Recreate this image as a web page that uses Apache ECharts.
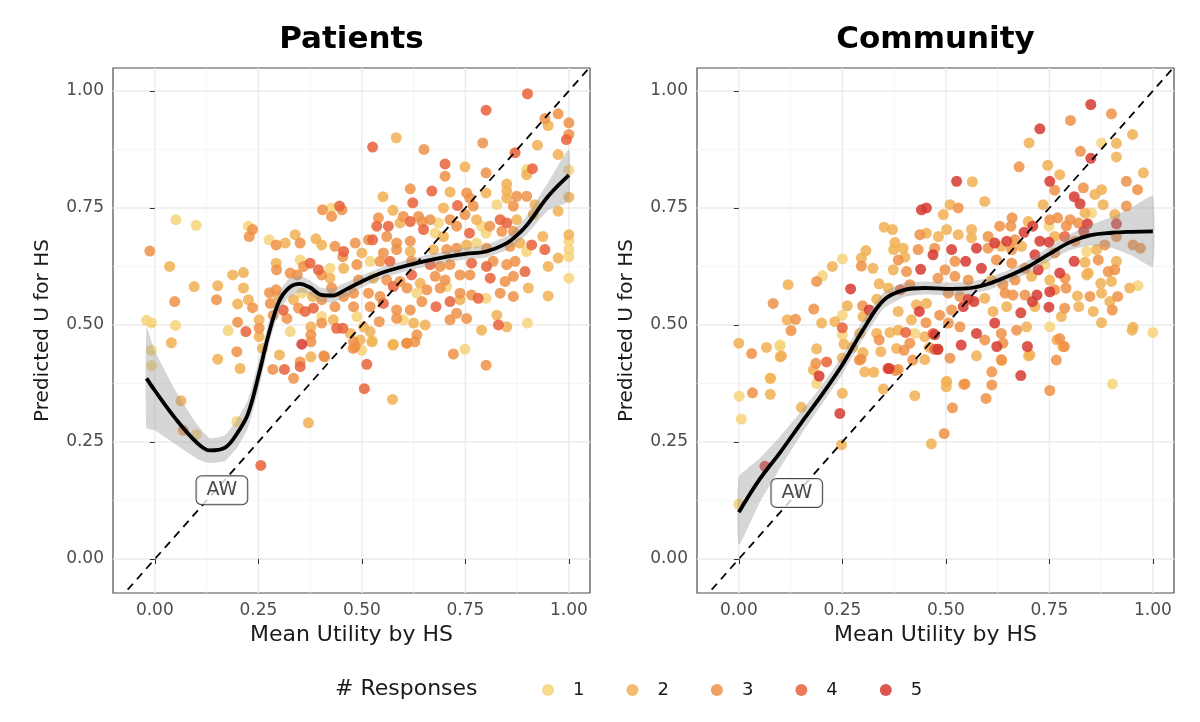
<!DOCTYPE html>
<html>
<head>
<meta charset="utf-8">
<script src="https://cdn.jsdelivr.net/npm/echarts@6/dist/echarts.min.js"></script>
<style>html,body{margin:0;padding:0;background:#fff}#chart{width:1200px;height:722px}</style>
</head>
<body>
<div id="chart"></div>
<script>
// ---------- DATA ----------
const responseLevels = ['1', '2', '3', '4', '5'];
const responseColors = ['#F6D47A', '#F1B052', '#EE9045', '#E7623A', '#D63A30'];

const patientsR1 = [[0.051,0.725],[0.10,0.713],[-0.02,0.51],[-0.008,0.504],[0.05,0.499],[-0.008,0.446],[-0.008,0.413],[0.10,0.266],[0.226,0.711],[0.276,0.682],[0.427,0.75],[0.351,0.639],[0.423,0.621],[0.177,0.488],[0.327,0.486],[0.355,0.568],[0.403,0.518],[0.898,0.832],[1.0,0.831],[0.826,0.757],[0.685,0.718],[0.789,0.711],[0.8,0.696],[0.677,0.696],[0.777,0.675],[1.0,0.679],[1.0,0.661],[1.0,0.646],[0.898,0.657],[0.52,0.636],[1.0,0.6],[0.633,0.568],[0.705,0.582],[0.8,0.557],[0.488,0.518],[0.6,0.511],[0.9,0.504],[0.5,0.446],[0.749,0.448],[0.526,0.466],[0.198,0.294]];
const patientsR2 = [[0.036,0.625],[0.095,0.582],[0.04,0.462],[0.063,0.338],[0.152,0.584],[0.188,0.607],[0.214,0.612],[0.214,0.579],[0.315,0.675],[0.339,0.693],[0.389,0.684],[0.403,0.671],[0.293,0.632],[0.456,0.621],[0.423,0.6],[0.2,0.545],[0.226,0.554],[0.298,0.561],[0.335,0.554],[0.381,0.561],[0.431,0.511],[0.472,0.482],[0.252,0.511],[0.252,0.475],[0.377,0.496],[0.26,0.45],[0.152,0.427],[0.206,0.407],[0.301,0.436],[0.377,0.432],[0.371,0.291],[0.576,0.459],[0.574,0.341],[0.583,0.9],[0.95,0.926],[0.924,0.884],[0.974,0.864],[0.898,0.821],[0.749,0.838],[0.85,0.801],[0.713,0.784],[0.551,0.774],[0.8,0.782],[0.85,0.786],[0.85,0.771],[1.0,0.773],[0.575,0.745],[0.697,0.75],[0.918,0.757],[0.974,0.743],[0.592,0.718],[0.777,0.725],[0.874,0.725],[0.914,0.736],[0.697,0.689],[0.5,0.654],[0.617,0.657],[0.673,0.661],[0.753,0.671],[0.882,0.675],[0.937,0.689],[1.0,0.693],[0.974,0.643],[0.95,0.625],[0.528,0.6],[0.641,0.589],[0.902,0.579],[0.95,0.562],[0.737,0.554],[0.625,0.504],[0.653,0.5],[0.826,0.521],[0.85,0.496],[0.504,0.496],[0.52,0.486],[0.496,0.468],[0.524,0.464],[0.575,0.457],[0.789,0.489]];
const patientsR3 = [[-0.012,0.658],[0.048,0.55],[0.069,0.275],[0.149,0.554],[0.236,0.704],[0.228,0.689],[0.293,0.671],[0.351,0.675],[0.405,0.746],[0.452,0.746],[0.427,0.732],[0.435,0.668],[0.454,0.646],[0.359,0.625],[0.294,0.618],[0.327,0.611],[0.344,0.607],[0.403,0.607],[0.236,0.537],[0.277,0.569],[0.293,0.575],[0.279,0.546],[0.286,0.521],[0.319,0.514],[0.347,0.536],[0.403,0.554],[0.427,0.579],[0.435,0.539],[0.456,0.561],[0.403,0.504],[0.2,0.506],[0.252,0.493],[0.377,0.479],[0.377,0.464],[0.198,0.443],[0.351,0.421],[0.41,0.432],[0.285,0.405],[0.335,0.386],[0.48,0.464],[0.408,0.434],[0.479,0.45],[0.608,0.461],[0.628,0.464],[0.974,0.951],[0.942,0.941],[1.0,0.932],[1.0,0.907],[0.65,0.875],[0.792,0.889],[0.701,0.818],[0.8,0.825],[0.617,0.791],[0.753,0.782],[0.761,0.771],[0.874,0.775],[0.898,0.775],[0.769,0.754],[0.866,0.754],[0.54,0.729],[0.6,0.732],[0.637,0.732],[0.665,0.725],[0.645,0.721],[0.713,0.725],[0.729,0.711],[0.749,0.736],[0.809,0.711],[0.838,0.7],[0.866,0.7],[0.484,0.675],[0.516,0.682],[0.56,0.689],[0.584,0.675],[0.617,0.679],[0.552,0.654],[0.584,0.661],[0.705,0.661],[0.729,0.664],[0.801,0.664],[0.858,0.668],[0.488,0.629],[0.544,0.636],[0.62,0.636],[0.689,0.625],[0.713,0.629],[0.817,0.636],[0.85,0.629],[0.87,0.636],[0.492,0.596],[0.56,0.596],[0.592,0.593],[0.677,0.604],[0.701,0.596],[0.737,0.607],[0.761,0.607],[0.846,0.593],[0.866,0.604],[0.48,0.568],[0.516,0.568],[0.544,0.561],[0.609,0.579],[0.657,0.575],[0.689,0.579],[0.737,0.568],[0.765,0.564],[0.834,0.568],[0.866,0.561],[0.48,0.539],[0.52,0.539],[0.584,0.532],[0.617,0.532],[0.645,0.55],[0.542,0.507],[0.584,0.514],[0.713,0.511],[0.729,0.525],[0.753,0.514],[0.484,0.454],[0.609,0.461],[0.633,0.479],[0.721,0.438],[0.8,0.414]];
const patientsR4 = [[0.446,0.754],[0.456,0.657],[0.375,0.632],[0.395,0.618],[0.31,0.532],[0.363,0.529],[0.383,0.536],[0.439,0.493],[0.454,0.493],[0.22,0.486],[0.351,0.411],[0.313,0.405],[0.256,0.2],[0.9,0.994],[0.8,0.959],[0.994,0.896],[0.526,0.88],[0.87,0.868],[0.912,0.834],[0.701,0.844],[0.669,0.786],[0.623,0.761],[0.731,0.755],[0.536,0.711],[0.564,0.711],[0.617,0.721],[0.649,0.704],[0.834,0.725],[0.85,0.718],[0.76,0.696],[0.526,0.682],[0.91,0.671],[0.942,0.661],[0.568,0.636],[0.665,0.629],[0.765,0.632],[0.801,0.625],[0.894,0.614],[0.62,0.607],[0.81,0.6],[0.576,0.582],[0.781,0.557],[0.552,0.546],[0.679,0.539],[0.713,0.55],[0.83,0.5],[0.512,0.416],[0.506,0.364]];
const patientsR5 = [[0.355,0.459]];

const communityR1 = [[0.25,0.641],[0.202,0.605],[0.25,0.521],[0.1,0.457],[0.25,0.479],[0.188,0.375],[0.075,0.386],[0.001,0.348],[0,0.117],[0.099,0.455],[0.006,0.299],[0.501,0.379],[0.902,0.374],[1.0,0.484],[0.876,0.889],[0.749,0.711],[0.84,0.657],[0.739,0.629],[0.964,0.584],[0.751,0.496],[0.425,0.482],[0.852,0.739]];
const communityR2 = [[0.351,0.709],[0.371,0.704],[0.453,0.696],[0.377,0.676],[0.397,0.664],[0.374,0.661],[0.307,0.659],[0.296,0.643],[0.226,0.625],[0.324,0.621],[0.401,0.645],[0.373,0.618],[0.119,0.586],[0.339,0.588],[0.361,0.579],[0.262,0.541],[0.333,0.555],[0.385,0.529],[0.429,0.543],[0.453,0.546],[0.3,0.518],[0.117,0.511],[0.2,0.504],[0.232,0.507],[0.292,0.482],[0.333,0.482],[0.365,0.484],[0.385,0.489],[0.417,0.511],[0.449,0.475],[0,0.461],[0.067,0.452],[0.1,0.432],[0.188,0.449],[0.254,0.459],[0.275,0.452],[0.3,0.441],[0.343,0.443],[0.381,0.45],[0.46,0.452],[0.25,0.429],[0.18,0.404],[0.304,0.4],[0.326,0.399],[0.449,0.426],[0.076,0.352],[0.25,0.354],[0.349,0.363],[0.425,0.349],[0.151,0.324],[0.248,0.244],[0.465,0.246],[0.077,0.386],[0.103,0.434],[0.574,0.434],[0.635,0.424],[0.7,0.434],[0.768,0.468],[0.501,0.368],[0.543,0.373],[0.95,0.489],[0.951,0.907],[0.701,0.889],[0.912,0.888],[0.912,0.859],[0.746,0.841],[0.775,0.821],[0.977,0.825],[0.564,0.806],[0.876,0.789],[0.86,0.779],[0.88,0.757],[0.594,0.764],[0.51,0.757],[0.494,0.736],[0.735,0.757],[0.836,0.739],[0.908,0.736],[0.699,0.721],[0.562,0.704],[0.502,0.704],[0.482,0.689],[0.53,0.693],[0.562,0.686],[0.763,0.689],[0.634,0.668],[0.683,0.668],[0.864,0.661],[0.836,0.634],[0.912,0.636],[0.844,0.611],[0.61,0.596],[0.707,0.604],[0.751,0.596],[0.84,0.607],[0.874,0.589],[0.9,0.593],[0.944,0.579],[0.594,0.557],[0.818,0.562],[0.876,0.568],[0.614,0.529],[0.647,0.539],[0.715,0.539],[0.821,0.539],[0.856,0.529],[0.896,0.55],[0.779,0.518],[0.876,0.505],[0.952,0.495],[0.695,0.496],[0.783,0.454],[0.703,0.436],[0.502,0.379]];
const communityR3 = [[0.437,0.693],[0.296,0.626],[0.385,0.639],[0.433,0.661],[0.405,0.614],[0.188,0.593],[0.413,0.586],[0.083,0.546],[0.181,0.534],[0.299,0.541],[0.137,0.512],[0.452,0.505],[0.126,0.488],[0.339,0.468],[0.031,0.439],[0.399,0.446],[0.413,0.461],[0.295,0.427],[0.186,0.418],[0.385,0.405],[0.033,0.355],[0.42,0.425],[0.291,0.425],[0.378,0.403],[0.496,0.268],[0.516,0.323],[0.611,0.4],[0.611,0.372],[0.597,0.343],[0.751,0.36],[0.767,0.425],[0.786,0.454],[0.9,0.951],[0.801,0.937],[0.825,0.871],[0.677,0.838],[0.763,0.788],[0.832,0.793],[0.936,0.807],[0.963,0.789],[0.53,0.75],[0.936,0.754],[0.66,0.729],[0.751,0.725],[0.77,0.729],[0.8,0.725],[0.63,0.711],[0.657,0.711],[0.791,0.712],[0.82,0.718],[0.602,0.689],[0.667,0.682],[0.812,0.679],[0.884,0.671],[0.912,0.689],[0.473,0.664],[0.602,0.664],[0.659,0.661],[0.763,0.654],[0.952,0.671],[0.97,0.664],[0.498,0.618],[0.522,0.636],[0.622,0.639],[0.659,0.632],[0.691,0.621],[0.868,0.639],[0.892,0.614],[0.908,0.618],[0.481,0.6],[0.522,0.604],[0.554,0.596],[0.638,0.586],[0.667,0.596],[0.788,0.6],[0.506,0.568],[0.534,0.561],[0.643,0.568],[0.662,0.564],[0.691,0.564],[0.763,0.575],[0.79,0.579],[0.848,0.561],[0.915,0.561],[0.514,0.532],[0.485,0.521],[0.787,0.536],[0.902,0.532],[0.506,0.504],[0.534,0.496],[0.634,0.482],[0.671,0.489],[0.594,0.468],[0.638,0.461],[0.775,0.471],[0.51,0.429],[0.634,0.426],[0.546,0.374]];
const communityR4 = [[0.39,0.575],[0.403,0.484],[0.469,0.482],[0.473,0.448],[0.25,0.494],[0.212,0.421],[0.36,0.407],[0.48,0.448],[0.787,0.689]];
const communityR5 = [[0.441,0.746],[0.453,0.75],[0.469,0.65],[0.439,0.619],[0.27,0.577],[0.315,0.532],[0.436,0.529],[0.194,0.391],[0.363,0.407],[0.244,0.311],[0.063,0.198],[0.537,0.457],[0.623,0.454],[0.681,0.392],[0.697,0.454],[0.85,0.971],[0.727,0.919],[0.85,0.856],[0.526,0.807],[0.751,0.807],[0.81,0.774],[0.824,0.759],[0.71,0.711],[0.842,0.716],[0.833,0.7],[0.912,0.716],[0.618,0.675],[0.647,0.679],[0.689,0.698],[0.727,0.679],[0.749,0.677],[0.514,0.661],[0.574,0.664],[0.715,0.65],[0.548,0.636],[0.586,0.621],[0.723,0.618],[0.775,0.611],[0.81,0.636],[0.554,0.555],[0.568,0.55],[0.72,0.564],[0.751,0.571],[0.542,0.539],[0.681,0.526],[0.709,0.55],[0.749,0.538],[0.574,0.482],[0.618,0.504],[0.473,0.479],[0.481,0.448]];

// smoother fit with confidence band
const patientsFitX  = [-0.02, 0.0, 0.05, 0.1, 0.133, 0.17, 0.2, 0.225, 0.25, 0.275, 0.3, 0.325, 0.35, 0.375, 0.4, 0.43, 0.46, 0.5, 0.55, 0.6, 0.65, 0.7, 0.75, 0.8, 0.85, 0.875, 0.9, 0.95, 1.0];
const patientsFitY  = [0.386, 0.36, 0.30, 0.25, 0.232, 0.238, 0.27, 0.31, 0.39, 0.48, 0.55, 0.58, 0.588, 0.58, 0.565, 0.563, 0.575, 0.593, 0.612, 0.625, 0.636, 0.645, 0.652, 0.657, 0.675, 0.692, 0.715, 0.775, 0.82];
const patientsFitLo = [0.28, 0.275, 0.245, 0.215, 0.205, 0.21, 0.24, 0.28, 0.36, 0.455, 0.53, 0.56, 0.57, 0.565, 0.55, 0.548, 0.56, 0.58, 0.60, 0.613, 0.624, 0.633, 0.64, 0.644, 0.66, 0.676, 0.695, 0.745, 0.765];
const patientsFitHi = [0.495, 0.445, 0.36, 0.29, 0.258, 0.265, 0.30, 0.34, 0.42, 0.505, 0.57, 0.60, 0.605, 0.595, 0.58, 0.578, 0.59, 0.606, 0.624, 0.637, 0.648, 0.657, 0.665, 0.671, 0.69, 0.71, 0.735, 0.805, 0.875];

const communityFitX  = [0.0, 0.05, 0.1, 0.15, 0.2, 0.25, 0.3, 0.35, 0.4, 0.45, 0.5, 0.55, 0.6, 0.65, 0.7, 0.75, 0.8, 0.85, 0.9, 0.95, 1.0];
const communityFitY  = [0.10, 0.17, 0.228, 0.29, 0.35, 0.415, 0.49, 0.553, 0.575, 0.579, 0.577, 0.578, 0.587, 0.604, 0.625, 0.652, 0.677, 0.692, 0.697, 0.699, 0.70];
const communityFitLo = [0.03, 0.12, 0.195, 0.265, 0.33, 0.395, 0.47, 0.535, 0.56, 0.565, 0.563, 0.564, 0.574, 0.591, 0.611, 0.637, 0.66, 0.67, 0.665, 0.648, 0.625];
const communityFitHi = [0.175, 0.215, 0.262, 0.315, 0.37, 0.435, 0.51, 0.57, 0.59, 0.593, 0.591, 0.592, 0.60, 0.617, 0.639, 0.667, 0.694, 0.714, 0.73, 0.752, 0.775];

// reference line (identity) end points, label positions
const identityLine = [[-0.2, -0.2], [1.2, 1.2]];
const labelText = 'AW';
const patientsLabel = [[0.162, 0.147]];
const communityLabel = [[0.14, 0.141]];

// ticks
const tickValues = [0, 0.25, 0.5, 0.75, 1];
const minorValues = [0.125, 0.375, 0.625, 0.875];
const panelTitles = ['Patients', 'Community'];
const xTitle = 'Mean Utility by HS';
const yTitle = 'Predicted U for HS';
const legendTitle = '# Responses';

// ---------- CHART ----------
const FONT = 'DejaVu Sans';
const chart = echarts.init(document.getElementById('chart'), null, {renderer: 'canvas'});

const grids = [
  {left: 113, top: 68, width: 477, height: 525},
  {left: 697, top: 68, width: 477, height: 525}
];

function makeX(i) {
  return {
    type: 'value', gridIndex: i, min: -0.101, max: 1.051,
    name: xTitle, nameLocation: 'middle', nameGap: 30,
    nameTextStyle: {fontFamily: FONT, fontSize: 22, color: '#1a1a1a'},
    axisLine: {show: false},
    axisTick: {show: true, length: 5, lineStyle: {color: '#333', width: 1}, customValues: tickValues},
    axisLabel: {customValues: tickValues, formatter: v => v.toFixed(2), fontFamily: FONT, fontSize: 17, color: '#4d4d4d', margin: 9},
    splitLine: {show: false}
  };
}
function makeY(i) {
  return {
    type: 'value', gridIndex: i, min: -0.0726, max: 1.049,
    name: yTitle, nameLocation: 'middle', nameGap: 60, nameRotate: 90,
    nameTextStyle: {fontFamily: FONT, fontSize: 20, color: '#1a1a1a'},
    axisLine: {show: false},
    axisTick: {show: true, length: 5, lineStyle: {color: '#333', width: 1}, customValues: tickValues},
    axisLabel: {customValues: tickValues, formatter: v => v.toFixed(2), fontFamily: FONT, fontSize: 17, color: '#4d4d4d', margin: 9},
    splitLine: {show: false}
  };
}

function gridLineSeries(i, values, orient, color, width) {
  return {
    type: 'custom', xAxisIndex: i, yAxisIndex: i, silent: true, z: 0,
    data: values.map(v => orient === 'v' ? [v, 0] : [0, v]),
    renderItem: function (params, api) {
      const cs = params.coordSys;
      if (orient === 'v') {
        const p = api.coord([api.value(0), 0]);
        return {type: 'line', shape: {x1: p[0], y1: cs.y, x2: p[0], y2: cs.y + cs.height}, style: {stroke: color, lineWidth: width}};
      }
      const p = api.coord([0, api.value(1)]);
      return {type: 'line', shape: {x1: cs.x, y1: p[1], x2: cs.x + cs.width, y2: p[1]}, style: {stroke: color, lineWidth: width}};
    }
  };
}

function bandSeries(i, xs, lo, hi) {
  return {
    type: 'custom', xAxisIndex: i, yAxisIndex: i, silent: true, z: 3, clip: true,
    data: [[xs[0], lo[0]]],
    renderItem: function (params, api) {
      const pts = [];
      for (let k = 0; k < xs.length; k++) pts.push(api.coord([xs[k], hi[k]]));
      for (let k = xs.length - 1; k >= 0; k--) pts.push(api.coord([xs[k], lo[k]]));
      return {type: 'polygon', shape: {points: pts, smooth: 0.15}, style: {fill: 'rgba(153,153,153,0.4)'}};
    }
  };
}

function scatterSeries(i, name, data, color) {
  return {
    type: 'scatter', name: name, xAxisIndex: i, yAxisIndex: i, z: 2,
    data: data, symbolSize: 11,
    itemStyle: {color: color, opacity: 0.85},
    emphasis: {disabled: true}
  };
}

const panels = [
  {pts: [patientsR1, patientsR2, patientsR3, patientsR4, patientsR5], fx: patientsFitX, fy: patientsFitY, lo: patientsFitLo, hi: patientsFitHi, lab: patientsLabel},
  {pts: [communityR1, communityR2, communityR3, communityR4, communityR5], fx: communityFitX, fy: communityFitY, lo: communityFitLo, hi: communityFitHi, lab: communityLabel}
];

const series = [];
panels.forEach((p, i) => {
  series.push(gridLineSeries(i, minorValues, 'v', '#f4f4f4', 0.8));
  series.push(gridLineSeries(i, minorValues, 'h', '#f4f4f4', 0.8));
  series.push(gridLineSeries(i, tickValues, 'v', '#ebebeb', 1.4));
  series.push(gridLineSeries(i, tickValues, 'h', '#ebebeb', 1.4));
  p.pts.forEach((d, k) => series.push(scatterSeries(i, responseLevels[k], d, responseColors[k])));
  series.push(bandSeries(i, p.fx, p.lo, p.hi));
  series.push({
    type: 'line', xAxisIndex: i, yAxisIndex: i, z: 4, silent: true,
    data: p.fx.map((x, k) => [x, p.fy[k]]), smooth: 0.35, showSymbol: false, symbol: 'none',
    lineStyle: {color: '#000', width: 3.8}
  });
  series.push({
    type: 'line', xAxisIndex: i, yAxisIndex: i, z: 5, silent: true, clip: true,
    data: identityLine, showSymbol: false, symbol: 'none',
    lineStyle: {color: '#000', width: 1.8, type: [8, 6]}
  });
  series.push({
    type: 'scatter', xAxisIndex: i, yAxisIndex: i, z: 6, silent: true,
    data: p.lab, symbolSize: 0,
    label: {show: true, formatter: labelText, position: 'inside', fontFamily: FONT, fontSize: 19, color: '#1a1a1a',
      backgroundColor: '#fff', borderColor: '#1a1a1a', borderWidth: 1, borderRadius: 5, padding: [5, 10, 4, 10]}
  });
});

const option = {
  animation: false,
  backgroundColor: '#fff',
  grid: grids.map(g => Object.assign({show: true, borderColor: '#4d4d4d', borderWidth: 1.2, backgroundColor: 'transparent'}, g)),
  xAxis: [makeX(0), makeX(1)],
  yAxis: [makeY(0), makeY(1)],
  legend: {
    data: responseLevels, left: 537, top: 676, orient: 'horizontal',
    icon: 'circle', itemWidth: 40, itemHeight: 12, itemGap: 42,
    textStyle: {fontFamily: FONT, fontSize: 18, color: '#1a1a1a'}
  },
  graphic: [
    {type: 'text', x: 351.5, y: 40, style: {text: panelTitles[0], font: 'bold 31px "DejaVu Sans"', fill: '#000', textAlign: 'center', textVerticalAlign: 'middle'}},
    {type: 'text', x: 935.5, y: 40, style: {text: panelTitles[1], font: 'bold 31px "DejaVu Sans"', fill: '#000', textAlign: 'center', textVerticalAlign: 'middle'}},
    {type: 'text', x: 335, y: 689, style: {text: legendTitle, font: '22px "DejaVu Sans"', fill: '#1a1a1a', textAlign: 'left', textVerticalAlign: 'middle'}}
  ],
  series: series
};
chart.setOption(option);
</script>
</body>
</html>
